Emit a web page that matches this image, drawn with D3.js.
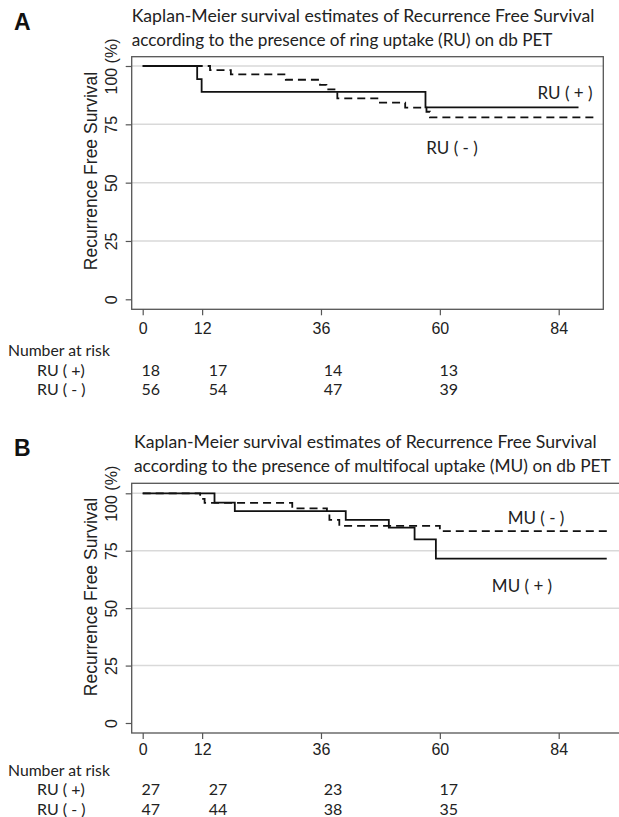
<!DOCTYPE html>
<html>
<head>
<meta charset="utf-8">
<script src="https://cdn.jsdelivr.net/npm/d3@7"></script>
<style>
  html, body { margin: 0; padding: 0; background: #fff; }
  svg { display: block; }
</style>
</head>
<body>
<div id="chart"></div>
<script>
// ---------------- DATA ----------------
const monthTicks = [0, 12, 36, 60, 84];
const survTicks = [0, 25, 50, 75, 100];
const survTickLabels = ["0", "25", "50", "75", "100 (%)"];
const riskTimes = [0, 12, 36, 60];

// Panel A : ring uptake (RU)
const titleA = ["Kaplan-Meier survival estimates of Recurrence Free Survival",
                "according to the presence of ring uptake (RU) on db PET"];
const ruPosTimes = [0, 11.0, 11.9, 57.1, 88.0];
const ruPosSurv  = [100, 94.4, 88.9, 82.3, 82.3];
const ruNegTimes = [0, 13.6, 17.8, 28.9, 35.8, 37.1, 39.3, 47.9, 53.0, 57.3, 58.0, 91.0];
const ruNegSurv  = [100, 98.2, 96.4, 94.1, 91.9, 90.0, 86.1, 84.3, 82.2, 80.4, 78.0, 78.0];
const riskRowsA = ["RU ( +)", "RU ( - )"];
const riskA_pos = [18, 17, 14, 13];
const riskA_neg = [56, 54, 47, 39];
const seriesLabelsA = ["RU ( + )", "RU ( - )"];

// Panel B : multifocal uptake (MU)
const titleB = ["Kaplan-Meier survival estimates of Recurrence Free Survival",
                "according to the presence of multifocal uptake (MU) on db PET"];
const muPosTimes = [0, 14.5, 18.6, 41.0, 49.7, 54.9, 59.2, 93.7];
const muPosSurv  = [100, 95.9, 92.2, 88.4, 85.1, 79.9, 71.6, 71.6];
const muNegTimes = [0, 11.6, 12.5, 30.2, 37.2, 37.7, 39.7, 60.0, 94.0];
const muNegSurv  = [100, 97.6, 95.8, 93.4, 91.8, 88.4, 85.8, 83.5, 83.5];
const riskRowsB = ["RU ( +)", "RU ( - )"];
const riskB_pos = [27, 27, 23, 17];
const riskB_neg = [47, 44, 38, 35];
const seriesLabelsB = ["MU ( - )", "MU ( + )"];

// ---------------- LAYOUT ----------------
const W = 619, H = 817;
const svg = d3.select("#chart").append("svg").attr("width", W).attr("height", H);

const calibri = "Lato, 'Open Sans', sans-serif";
const arial = "'Liberation Sans', Arial, sans-serif";
const colOffset = [8, 16, 12, 9];

// scale font size so that the natural text width equals the target width
function fitText(sel, width, baseSize) {
  const w = sel.node().getComputedTextLength();
  if (w > 0) sel.attr("font-size", (baseSize * width / w).toFixed(2));
}

function drawPanel(cfg) {
  const g = svg.append("g");
  const x = d3.scaleLinear().domain([0, 84]).range([cfg.x0, cfg.x84]);
  const y = d3.scaleLinear().domain([0, 100]).range([cfg.y0, cfg.y100]);

  // panel letter
  g.append("text").attr("x", 14).attr("y", cfg.letterY)
    .attr("font-family", arial).attr("font-weight", "bold").attr("font-size", 23)
    .attr("fill", "#111").text(cfg.letter);

  // title
  cfg.title.forEach((t, i) => {
    const tx = g.append("text").attr("x", cfg.titleX).attr("y", cfg.titleY[i])
      .attr("font-family", calibri).attr("font-size", 19).attr("fill", "#222").text(t);
    fitText(tx, cfg.titleW[i], 19);
  });

  // gridlines
  g.selectAll(".grid").data(survTicks.filter(d => d > 0)).enter().append("line")
    .attr("x1", cfg.left).attr("x2", cfg.right)
    .attr("y1", d => y(d)).attr("y2", d => y(d))
    .attr("stroke", "#d9d9d9").attr("stroke-width", 1.5);

  // frame
  g.append("rect").attr("x", cfg.left).attr("y", cfg.top)
    .attr("width", cfg.right - cfg.left).attr("height", cfg.bottom - cfg.top)
    .attr("fill", "none").attr("stroke", "#555").attr("stroke-width", 1.3);

  // y axis ticks + labels
  const ya = g.append("g").attr("transform", `translate(${cfg.left},0)`)
    .call(d3.axisLeft(y).tickValues(survTicks).tickSize(6).tickFormat((d, i) => survTickLabels[i]));
  ya.select(".domain").remove();
  ya.selectAll(".tick line").attr("stroke", "#555").attr("stroke-width", 1.2);
  ya.selectAll(".tick text")
    .attr("font-family", arial).attr("font-size", 16).attr("fill", "#222")
    .attr("text-anchor", "middle").attr("dominant-baseline", "central")
    .attr("x", 0).attr("dy", null)
    .attr("transform", `translate(${-cfg.left + cfg.yLabX},0) rotate(-90)`);

  // x axis ticks + labels
  const xa = g.append("g").attr("transform", `translate(0,${cfg.bottom})`)
    .call(d3.axisBottom(x).tickValues(monthTicks).tickSize(6).tickFormat(d3.format("d")));
  xa.select(".domain").remove();
  xa.selectAll(".tick line").attr("stroke", "#555").attr("stroke-width", 1.2);
  xa.selectAll(".tick text")
    .attr("font-family", arial).attr("font-size", 16).attr("fill", "#222")
    .attr("y", cfg.xLabY - cfg.bottom).attr("dy", null).attr("dominant-baseline", "central");

  // y axis title
  g.append("text")
    .attr("transform", `translate(${cfg.yTitleX},${cfg.yTitleY}) rotate(-90)`)
    .attr("text-anchor", "middle").attr("dominant-baseline", "central")
    .attr("font-family", arial).attr("font-size", 17.5).attr("fill", "#222")
    .text("Recurrence Free Survival");

  // curves
  const line = d3.line().x(d => x(d[0])).y(d => y(d[1])).curve(d3.curveStepAfter);
  cfg.series.forEach(s => {
    const pts = s.t.map((t, i) => [t, s.s[i]]);
    g.append("path").datum(pts).attr("d", line)
      .attr("fill", "none").attr("stroke", "#111").attr("stroke-width", 1.8)
      .attr("stroke-dasharray", s.dash ? "8,5" : null);
  });

  // series labels
  cfg.labels.forEach(l => {
    g.append("text").attr("x", l.x).attr("y", l.y)
      .attr("text-anchor", "middle").attr("dominant-baseline", "central")
      .attr("font-family", calibri).attr("font-size", 17).attr("fill", "#222").text(l.text);
  });

  // number at risk table
  const nar = g.append("text").attr("x", 8).attr("y", cfg.riskY[0])
    .attr("dominant-baseline", "central")
    .attr("font-family", calibri).attr("font-size", 16).attr("fill", "#222").text("Number at risk");
  fitText(nar, 102, 16);
  cfg.riskRows.forEach((r, ri) => {
    g.append("text").attr("x", 37).attr("y", cfg.riskY[ri + 1])
      .attr("dominant-baseline", "central")
      .attr("font-family", calibri).attr("font-size", 16).attr("fill", "#222").text(r);
    g.selectAll(null).data(cfg.riskVals[ri]).enter().append("text")
      .attr("x", (d, i) => x(riskTimes[i]) + colOffset[i]).attr("y", cfg.riskY[ri + 1])
      .attr("text-anchor", "middle").attr("dominant-baseline", "central")
      .attr("font-family", calibri).attr("font-size", 16).attr("fill", "#222")
      .text(d => d);
  });
}

drawPanel({
  letter: "A", letterY: 30,
  title: titleA, titleX: 131.7, titleY: [22, 46], titleW: [463, 421],
  left: 131.7, right: 603.3, top: 56.7, bottom: 309.3,
  x0: 142.7, x84: 558.7, y0: 299.3, y100: 66,
  yLabX: 111, xLabY: 329, yTitleX: 91, yTitleY: 171,
  series: [{t: ruPosTimes, s: ruPosSurv, dash: false}, {t: ruNegTimes, s: ruNegSurv, dash: true}],
  labels: [{text: seriesLabelsA[0], x: 565, y: 92.7}, {text: seriesLabelsA[1], x: 452, y: 147.3}],
  riskRows: riskRowsA, riskVals: [riskA_pos, riskA_neg], riskY: [349.3, 369.3, 388.5]
});

drawPanel({
  letter: "B", letterY: 456,
  title: titleB, titleX: 134, titleY: [448, 472], titleW: [463, 477],
  left: 131.7, right: 660, top: 483.3, bottom: 733,
  x0: 142.7, x84: 558.7, y0: 723, y100: 493.3,
  yLabX: 111, xLabY: 749, yTitleX: 91, yTitleY: 597,
  series: [{t: muPosTimes, s: muPosSurv, dash: false}, {t: muNegTimes, s: muNegSurv, dash: true}],
  labels: [{text: seriesLabelsB[0], x: 536, y: 517}, {text: seriesLabelsB[1], x: 522, y: 585}],
  riskRows: riskRowsB, riskVals: [riskB_pos, riskB_neg], riskY: [769, 788.5, 808]
});
</script>
</body>
</html>
